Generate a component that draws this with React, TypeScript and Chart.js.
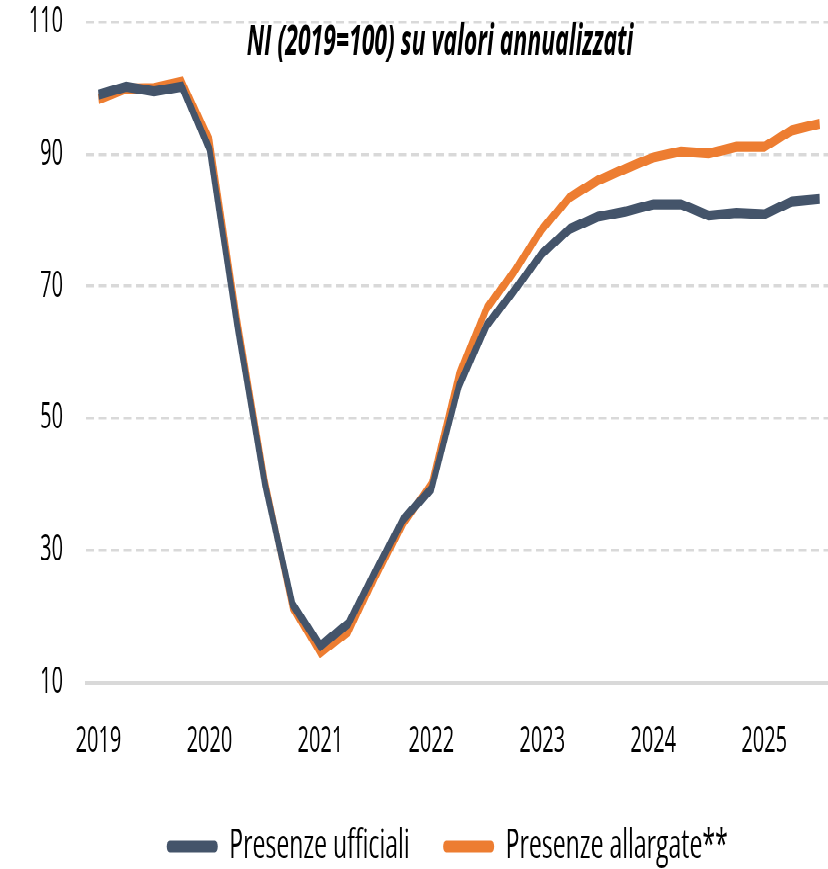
import React, { useEffect, useRef } from 'react';
import { Chart, registerables } from 'chart.js';

Chart.register(...registerables);

const TITLE = 'NI (2019=100) su valori annualizzati';
const YEARS = ['2019', '2020', '2021', '2022', '2023', '2024', '2025'];
const QUARTERS = [
  '2019 T1', '2019 T2', '2019 T3', '2019 T4',
  '2020 T1', '2020 T2', '2020 T3', '2020 T4',
  '2021 T1', '2021 T2', '2021 T3', '2021 T4',
  '2022 T1', '2022 T2', '2022 T3', '2022 T4',
  '2023 T1', '2023 T2', '2023 T3', '2023 T4',
  '2024 T1', '2024 T2', '2024 T3', '2024 T4',
  '2025 T1', '2025 T2', '2025 T3',
];
const SERIES_NAMES = ['Presenze ufficiali', 'Presenze allargate**'];
const UFFICIALI = [
  99.0, 100.2, 99.5, 100.2,
  90.8, 64.0, 40.0, 21.8,
  15.6, 18.9, 27.0, 34.8,
  39.3, 55.0, 64.1, 69.4,
  75.0, 78.7, 80.5, 81.3,
  82.4, 82.4, 80.7, 81.1,
  80.9, 82.8, 83.2,
];
const ALLARGATE = [
  98.3, 99.9, 100.0, 100.9,
  92.3, 65.0, 40.5, 21.3,
  14.6, 17.7, 26.2, 34.2,
  40.0, 56.8, 66.7, 72.3,
  78.7, 83.5, 86.0, 87.8,
  89.5, 90.4, 90.1, 91.1,
  91.1, 93.6, 94.6,
];

const BLUE = '#44546A';
const ORANGE = '#ED7D31';
const GRID = '#D9D9D9';
const FONT = '"Open Sans", sans-serif';
const W = 828;
const H = 483;
const STRETCH = 869 / H;

const innerTitle = {
  id: 'innerTitle',
  afterDraw(chart: any, _args: any, opts: any) {
    const { ctx, chartArea } = chart;
    ctx.save();
    ctx.font = `italic bold ${opts.size}px ${FONT}`;
    ctx.fillStyle = '#000';
    ctx.textAlign = 'center';
    ctx.textBaseline = 'middle';
    ctx.fillText(opts.text, chartArea.left + opts.dx, opts.y);
    ctx.restore();
  },
};

const legendShift = {
  id: 'legendShift',
  afterLayout(chart: any, _args: any, opts: any) {
    if (chart.legend) {
      chart.legend.left += opts.dx;
      chart.legend.right += opts.dx;
    }
  },
};

export default function App() {
  const ref = useRef<HTMLCanvasElement>(null);

  useEffect(() => {
    const canvas = ref.current!;
    const toPoints = (arr: number[]) => arr.map((v, i) => ({ x: i, y: v, q: QUARTERS[i] }));
    const chart = new Chart(canvas, {
      type: 'line',
      data: {
        datasets: [
          {
            label: SERIES_NAMES[0],
            data: toPoints(UFFICIALI),
            borderColor: BLUE,
            backgroundColor: BLUE,
            borderWidth: 5.6,
            pointRadius: 0,
            tension: 0,
          },
          {
            label: SERIES_NAMES[1],
            data: toPoints(ALLARGATE),
            borderColor: ORANGE,
            backgroundColor: ORANGE,
            borderWidth: 5.6,
            pointRadius: 0,
            tension: 0,
          },
        ],
      },
      options: {
        animation: false,
        responsive: false,
        devicePixelRatio: 2,
        layout: { padding: { left: 0, right: 0, top: 12.2, bottom: -9 } },
        scales: {
          x: {
            type: 'linear',
            min: -0.45,
            max: 26.3,
            grid: { display: false },
            border: { display: true, color: GRID, width: 2 },
            afterBuildTicks: (s: any) => {
              s.ticks = YEARS.map((_, k) => ({ value: k * 4 }));
            },
            afterFit: (s: any) => {
              s.height = 46.1;
            },
            ticks: {
              autoSkip: false,
              maxRotation: 0,
              padding: 12.8,
              color: '#000',
              font: { family: FONT, size: 20 },
              callback: (v: any) => YEARS[Math.round(Number(v) / 4)] ?? '',
            },
          },
          y: {
            min: 10,
            max: 110,
            afterFit: (s: any) => {
              s.width = 86;
              s.paddingTop = 0;
              s.paddingBottom = 0;
            },
            ticks: {
              stepSize: 20,
              padding: 23,
              color: '#000',
              font: { family: FONT, size: 20 },
            },
            grid: {
              drawTicks: false,
              lineWidth: 1.7,
              color: (c: any) => (c.tick && c.tick.value === 10 ? 'rgba(0,0,0,0)' : GRID),
            },
            border: { display: false, dash: [8, 4.5] },
          },
        },
        plugins: {
          tooltip: { enabled: false },
          legend: {
            position: 'bottom',
            labels: {
              boxWidth: 51,
              boxHeight: 6.5,
              padding: 33.5,
              color: '#000',
              font: { family: FONT, size: 23 },
              useBorderRadius: true,
              borderRadius: 3,
              generateLabels: (ch: any) => {
                const items = Chart.defaults.plugins.legend.labels.generateLabels(ch);
                return items.map((it: any) => ({ ...it, lineWidth: 0 }));
              },
            },
          },
          innerTitle: { text: TITLE, size: 23, dx: 354, y: 24 },
          legendShift: { dx: 33.25 },
        } as any,
      },
      plugins: [innerTitle, legendShift],
    } as any);
    return () => chart.destroy();
  }, []);

  return (
    <div
      style={{
        position: 'absolute',
        left: 0,
        top: 0,
        width: W,
        height: H,
        transform: `scaleY(${STRETCH})`,
        transformOrigin: 'top left',
        background: '#fff',
      }}
    >
      <canvas ref={ref} width={W} height={H} />
    </div>
  );
}
